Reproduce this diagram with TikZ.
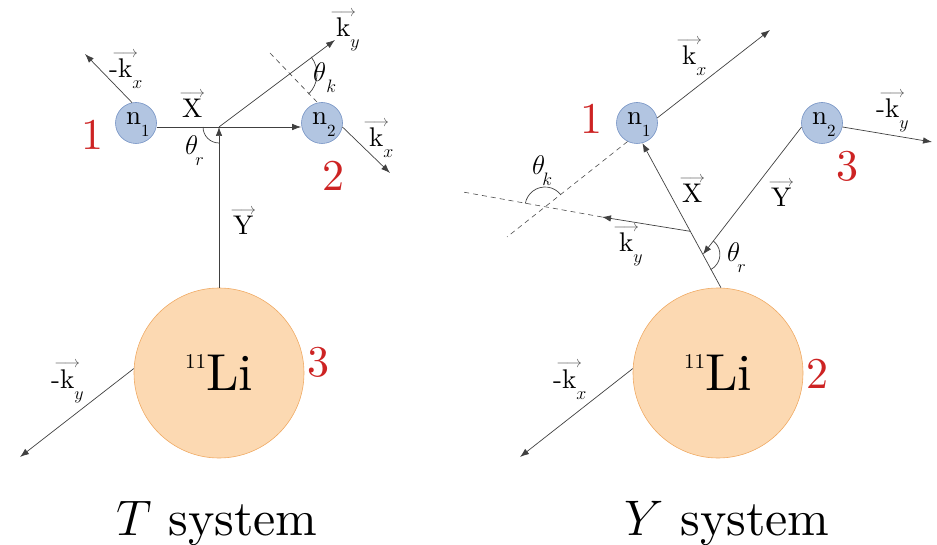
\RequirePackage{fix-cm}
\documentclass[tikz,border=0pt]{standalone}
\usepackage{fontspec}
\setmainfont{lmroman10-regular}[Extension=.otf, ItalicFont=lmroman10-italic, BoldFont=lmroman10-bold]
\usetikzlibrary{arrows.meta,calc}
\definecolor{nfill}{RGB}{178,197,225}
\definecolor{ndraw}{RGB}{115,145,195}
\definecolor{lfill}{RGB}{252,217,178}
\definecolor{ldraw}{RGB}{240,170,100}
\definecolor{numred}{RGB}{205,35,35}
\newcommand\va[1]{\mbox{\sbox0{$\mathrm{#1}$}\usebox0\hspace{-\wd0}\makebox[\wd0][c]{\raisebox{\dimexpr\ht0+2pt\relax}{\fontsize{16}{16}\selectfont\color{black!65}$\longrightarrow$}}}}
\newcommand\lsub[2][0pt]{\hspace{#1}\raisebox{-11pt}{\fontsize{18}{18}\selectfont$#2$}}
\newcommand\nsub[1]{\raisebox{-12pt}{\fontsize{17}{17}\selectfont #1}}
\newcommand\litext{{\fontsize{52}{52}\selectfont\raisebox{22pt}{\fontsize{21}{21}\selectfont 11}Li}}
\tikzset{
  ln/.style={draw=black!75, line width=0.7pt},
  arr/.style={ln, -{Latex[length=9pt,width=6.5pt]}},
  dsh/.style={draw=black!70, line width=0.6pt, dash pattern=on 5pt off 4pt},
  neut/.style={circle, draw=ndraw, fill=nfill, minimum size=41pt, inner sep=0pt, line width=0.6pt,
    text height=14pt, text depth=10pt, font=\fontsize{27}{27}\selectfont},
  core/.style={circle, draw=ldraw, fill=lfill, minimum size=170pt, inner sep=0pt, line width=0.6pt},
  lab/.style={inner sep=0pt, anchor=base west, font=\fontsize{27}{27}\selectfont},
  numlab/.style={inner sep=0pt, text=numred, font=\fontsize{44}{44}\selectfont},
  titlelab/.style={inner sep=0pt, anchor=base, font=\fontsize{50}{50}\selectfont}
}
\begin{document}
\begin{tikzpicture}[x=1pt,y=1pt]
\useasboundingbox (0,0) rectangle (937,-545);
% ---------- circles ----------
\node[neut] (n1L) at (136,-123) {\makebox[20pt][l]{n\nsub{1}}};
\node[neut] (n2L) at (322,-123) {\makebox[20pt][l]{n\nsub{2}}};
\node[core] (LiL) at (219,-373) {\litext};
\node[neut] (n1R) at (637,-123) {\makebox[20pt][l]{n\nsub{1}}};
\node[neut] (n2R) at (822,-123) {\makebox[20pt][l]{n\nsub{2}}};
\node[core] (LiR) at (718,-373) {\litext};
% ---------- T system ----------
\coordinate (J) at (219,-127);
\draw[arr] (LiL.north) -- (J);
\draw[arr] (n1L.east |- J) -- (n2L.west |- J);
\coordinate (kyL) at (335,-40);
\draw[arr] (J) -- (kyL);
\coordinate (dL1) at (270,-53);
\coordinate (dL2) at (317,-102);
\draw[dsh] (dL1) -- (dL2);
\coordinate (CL) at (289,-74);
\draw[ln] ($(CL)+(37.6:28)$) arc[start angle=37.6, end angle=-46, radius=28];
\draw[ln] ($(J)+(180:16)$) arc[start angle=180, end angle=270, radius=16];
\coordinate (mkxL) at (85,-54);
\draw[arr] (n1L.101) -- (mkxL);
\coordinate (kxL) at (390,-173);
\draw[arr] (n2L.-11) -- (kxL);
\coordinate (mkyL) at (20,-457);
\draw[arr] (LiL.177) -- (mkyL);
% labels T
\node[lab] (tmkx) at (109,-78) {-\va{k}\lsub{x}};
\node[lab] (tX) at (182,-118) {\va{X}};
\node[lab] (tky) at (336,-37) {\va{k}\lsub{y}};
\node[lab] (ttk) at (313,-82) {$\theta$\lsub{k}};
\node[lab] (tkx) at (369,-147) {\va{k}\lsub{x}};
\node[lab] (ttr) at (185,-155) {$\theta$\lsub[-3pt]{r}};
\node[lab] (tY) at (233,-235) {\va{Y}};
\node[lab] (tmky) at (51,-388) {-\va{k}\lsub{y}};
\node[numlab] (t1) at (92,-135) {1};
\node[numlab] (t2) at (333,-176) {2};
\node[numlab] (t3) at (318,-362) {3};
\node[titlelab] (tT) at (217,-535) {$T$ system};
% ---------- Y system ----------
\coordinate (PX) at (LiR.88);
\coordinate (PN) at (n1R.-75);
\draw[arr] (PX) -- (PN);
\coordinate (Q) at ($(PX)!0.23!(PN)$);
\coordinate (K) at ($(PX)!0.39!(PN)$);
\draw[arr] (n2R.191) -- (Q);
\coordinate (kyR) at (602,-217);
\coordinate (kyRe) at (463,-192);
\draw[arr] (K) -- (kyR);
\draw[dsh] (kyR) -- (kyRe);
\coordinate (dR) at (507,-237);
\draw[dsh] (n1R.243) -- (dR);
\coordinate (CR) at (545,-207);
\draw[ln] ($(CR)+(38:20)$) arc[start angle=38, end angle=170, radius=20];
\draw[ln] ($(Q)+(53:17)$) arc[start angle=53, end angle=-63, radius=17];
\coordinate (kxR) at (770,-30);
\draw[arr] (n1R.14) -- (kxR);
\coordinate (mkyR) at (932,-142);
\draw[arr] (n2R.-11) -- (mkyR);
\coordinate (mkxR) at (520,-457);
\draw[arr] (LiR.177) -- (mkxR);
% labels Y
\node[lab] (ykx) at (682,-65) {\va{k}\lsub{x}};
\node[lab] (ymky) at (876,-118) {-\va{k}\lsub{y}};
\node[lab] (ytk) at (532,-175) {$\theta$\lsub[-3pt]{k}};
\node[lab] (yX) at (682,-203) {\va{X}};
\node[lab] (yY) at (771,-207) {\va{Y}};
\node[lab] (yky) at (619,-252) {\va{k}\lsub{y}};
\node[lab] (ytr) at (727,-262) {$\theta$\lsub[-3pt]{r}};
\node[lab] (ymkx) at (553,-388) {-\va{k}\lsub{x}};
\node[numlab] (y1) at (591,-119) {1};
\node[numlab] (y3) at (847,-166) {3};
\node[numlab] (y2) at (817,-374) {2};
\node[titlelab] (yT) at (727,-535) {$Y$ system};
\end{tikzpicture}
\end{document}
